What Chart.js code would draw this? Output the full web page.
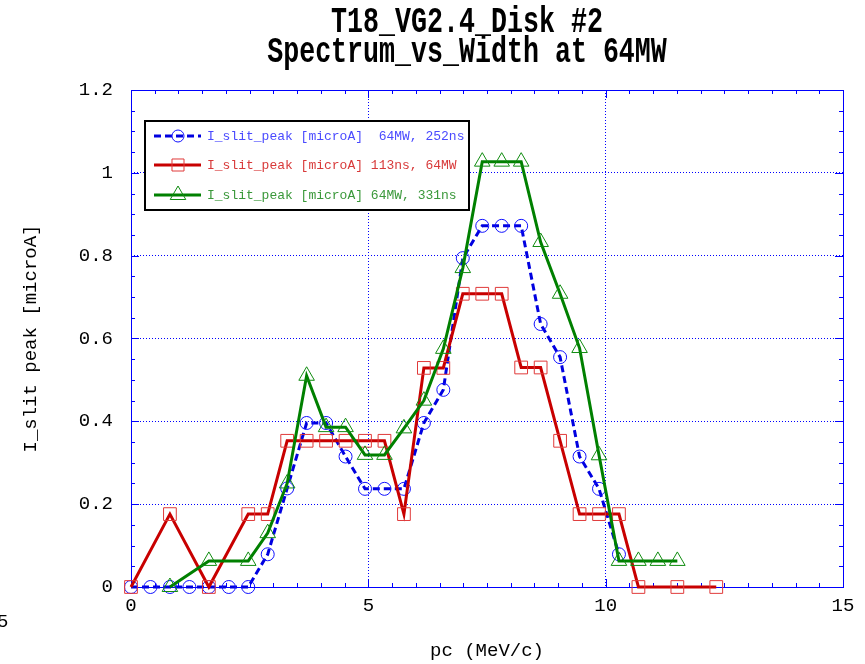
<!DOCTYPE html>
<html><head><meta charset="utf-8">
<script src="https://cdn.jsdelivr.net/npm/chart.js@4"></script>
<style>html,body{margin:0;padding:0;background:#fff;overflow:hidden}#wrap{width:865px;height:664px;position:relative}</style>
</head><body><div id="wrap"><canvas id="c" width="865" height="664"></canvas></div>
<script>
// ---- data ----
const titleLines = ["T18_VG2.4_Disk #2", "Spectrum_vs_Width at 64MW"];
const xAxisTitle = "pc (MeV/c)";
const yAxisTitle = "I_slit peak [microA]";
const seriesNames = [
  "I_slit_peak [microA]  64MW, 252ns",
  "I_slit_peak [microA] 113ns, 64MW",
  "I_slit_peak [microA] 64MW, 331ns"
];
const pc = [0, 0.41, 0.82, 1.23, 1.64, 2.06, 2.47, 2.88, 3.29, 3.70, 4.11, 4.52, 4.93, 5.34, 5.75, 6.17,
            6.58, 6.99, 7.40, 7.81, 8.22, 8.63, 9.04, 9.45, 9.86, 10.28, 10.69, 11.10, 11.51, 11.92, 12.33];
const blueCurrent = [0, 0, 0, 0, 0, 0, 0, 0.079, 0.238, 0.396, 0.396, 0.315, 0.237, 0.237, 0.237, 0.396,
                     0.476, 0.794, 0.872, 0.872, 0.872, 0.635, 0.555, 0.315, 0.237, 0.079,
                     null, null, null, null, null];
const redCurrent = [0, null, 0.176, null, 0, null, 0.176, 0.176, 0.353, 0.353, 0.353, 0.353, 0.353, 0.353, 0.176, 0.529,
                    0.529, 0.708, 0.708, 0.708, 0.530, 0.530, 0.353, 0.176, 0.176, 0.176,
                    0, null, 0, null, 0];
const greenCurrent = [null, null, 0, null, 0.063, null, 0.063, 0.130, 0.250, 0.510, 0.386, 0.386, 0.319, 0.319, 0.383, 0.450,
                      0.575, 0.770, 1.027, 1.027, 1.027, 0.833, 0.708, 0.577, 0.318, 0.063,
                      0.063, 0.063, 0.063, null, null];
const xTickValues = [0, 5, 10, 15];
const yTickValues = [0, 0.2, 0.4, 0.6, 0.8, 1, 1.2];
const strayLabel = "5";

// ---- build ----
function toPoints(xs, ys) {
  const out = [];
  for (let i = 0; i < xs.length; i++) {
    if (ys[i] !== null && ys[i] !== undefined) out.push({x: xs[i], y: ys[i]});
  }
  return out;
}
const AX = '#0000ff';
const MONO = '"Liberation Mono", "DejaVu Sans Mono", monospace';
const legendColors = ['#4a4aff', '#d83a3a', '#3a983a'];

const framePlugin = {
  id: 'frame',
  beforeDatasetsDraw(chart) {
    const {ctx, chartArea: a, scales: {x, y}} = chart;
    ctx.save();
    ctx.strokeStyle = AX;
    ctx.lineWidth = 1;
    // minor/major ticks inward
    ctx.beginPath();
    for (let v = 0; v <= 15.0001; v += 0.5) {
      const px = Math.round(x.getPixelForValue(v)) + 0.5;
      const len = (Math.abs(v % 5) < 1e-6) ? 8 : 4;
      ctx.moveTo(px, a.bottom); ctx.lineTo(px, a.bottom - len);
      ctx.moveTo(px, a.top); ctx.lineTo(px, a.top + len);
    }
    for (let k = 0; k <= 24; k++) {
      const v = k * 0.05;
      const py = Math.round(y.getPixelForValue(v)) + 0.5;
      const len = (k % 4 === 0) ? 8 : 4;
      ctx.moveTo(a.left, py); ctx.lineTo(a.left + len, py);
      ctx.moveTo(a.right, py); ctx.lineTo(a.right - len, py);
    }
    ctx.stroke();
    ctx.strokeRect(Math.round(a.left) + 0.5, Math.round(a.top) + 0.5,
                   Math.round(a.right - a.left), Math.round(a.bottom - a.top));
    ctx.restore();
  },
  afterDraw(chart) {
    const {ctx, chartArea: a} = chart;
    ctx.save();
    // title
    ctx.fillStyle = '#000';
    ctx.textAlign = 'center';
    ctx.textBaseline = 'alphabetic';
    ctx.font = 'bold 36px ' + MONO;
    const sx = 0.74;
    ctx.save();
    ctx.scale(sx, 1);
    ctx.fillText(titleLines[0], 467 / sx, 32);
    ctx.fillText(titleLines[1], 467 / sx, 62);
    ctx.restore();
    // axis titles
    ctx.font = '19px ' + MONO;
    ctx.textBaseline = 'middle';
    ctx.fillText(xAxisTitle, (a.left + a.right) / 2, 651);
    ctx.save();
    ctx.translate(31, (a.top + a.bottom) / 2);
    ctx.rotate(-Math.PI / 2);
    ctx.fillText(yAxisTitle, 0, 0);
    ctx.restore();
    ctx.textAlign = 'left';
    ctx.fillText(strayLabel, -3, 622);
    // legend
    const bx = 145, by = 121, bw = 324, bh = 89;
    ctx.fillStyle = '#fff';
    ctx.fillRect(bx, by, bw, bh);
    ctx.strokeStyle = '#000';
    ctx.lineWidth = 2;
    ctx.strokeRect(bx, by, bw, bh);
    const rows = [136, 165, 195];
    chart.data.datasets.forEach((ds, i) => {
      const yy = rows[i];
      ctx.save();
      ctx.strokeStyle = ds.borderColor;
      ctx.lineWidth = ds.borderWidth;
      ctx.setLineDash(ds.borderDash || []);
      ctx.beginPath(); ctx.moveTo(154, yy); ctx.lineTo(201, yy); ctx.stroke();
      ctx.setLineDash([]);
      ctx.strokeStyle = ds.pointBorderColor;
      ctx.fillStyle = 'rgba(0,0,0,0)';
      ctx.lineWidth = 1;
      Chart.helpers.drawPoint(ctx, {pointStyle: ds.pointStyle, rotation: 0, radius: ds.legendRadius, borderWidth: 1}, 178, yy);
      ctx.restore();
      ctx.fillStyle = legendColors[i];
      ctx.font = '13px ' + MONO;
      ctx.textBaseline = 'middle';
      ctx.textAlign = 'left';
      ctx.fillText(seriesNames[i], 207, yy + 1);
    });
    ctx.restore();
  }
};

new Chart(document.getElementById('c'), {
  type: 'line',
  data: {
    datasets: [
      {
        label: seriesNames[0], data: toPoints(pc, blueCurrent),
        borderColor: '#0000e0', borderWidth: 3, borderDash: [7, 4],
        pointStyle: 'circle', pointRadius: 6.5, pointHoverRadius: 6.5,
        pointBorderColor: '#1010ff', pointBorderWidth: 1, pointBackgroundColor: 'rgba(0,0,0,0)',
        legendRadius: 6, order: 2, clip: false, tension: 0
      },
      {
        label: seriesNames[1], data: toPoints(pc, redCurrent),
        borderColor: '#c80000', borderWidth: 3,
        pointStyle: 'rect', pointRadius: 9, pointHoverRadius: 9,
        pointBorderColor: '#e03a3a', pointBorderWidth: 1, pointBackgroundColor: 'rgba(0,0,0,0)',
        legendRadius: 8.5, order: 1, clip: false, tension: 0
      },
      {
        label: seriesNames[2], data: toPoints(pc, greenCurrent),
        borderColor: '#008000', borderWidth: 3,
        pointStyle: 'triangle', pointRadius: 9, pointHoverRadius: 9,
        pointBorderColor: '#108c10', pointBorderWidth: 1, pointBackgroundColor: 'rgba(0,0,0,0)',
        legendRadius: 9, order: 0, clip: false, tension: 0
      }
    ]
  },
  options: {
    responsive: false,
    devicePixelRatio: 1,
    animation: false,
    events: [],
    layout: {padding: {top: 90, right: 22, bottom: 0, left: 0}},
    plugins: {legend: {display: false}, title: {display: false}, tooltip: {enabled: false}},
    scales: {
      x: {
        type: 'linear', position: 'bottom', min: 0, max: 15,
        afterBuildTicks: s => { s.ticks = xTickValues.map(v => ({value: v})); },
        afterFit: s => { s.height = 77; },
        ticks: {color: '#000', font: {family: MONO, size: 19}, padding: 8, maxRotation: 0,
                callback: v => String(v)},
        grid: {color: ctx => (ctx.tick && (ctx.tick.value === 0 || ctx.tick.value === 15)) ? 'rgba(0,0,0,0)' : AX,
               lineWidth: 1, drawTicks: false},
        border: {display: false, dash: [1, 2]}
      },
      y: {
        type: 'linear', min: 0, max: 1.2,
        afterBuildTicks: s => { s.ticks = yTickValues.map(v => ({value: v})); },
        afterFit: s => { s.width = 131; },
        ticks: {color: '#000', font: {family: MONO, size: 19}, padding: 18,
                callback: v => String(Math.round(v * 10) / 10)},
        grid: {color: ctx => (ctx.tick && (ctx.tick.value === 0 || Math.abs(ctx.tick.value - 1.2) < 1e-6)) ? 'rgba(0,0,0,0)' : AX,
               lineWidth: 1, drawTicks: false},
        border: {display: false, dash: [1, 2]}
      }
    }
  },
  plugins: [framePlugin]
});
</script>
</body></html>
